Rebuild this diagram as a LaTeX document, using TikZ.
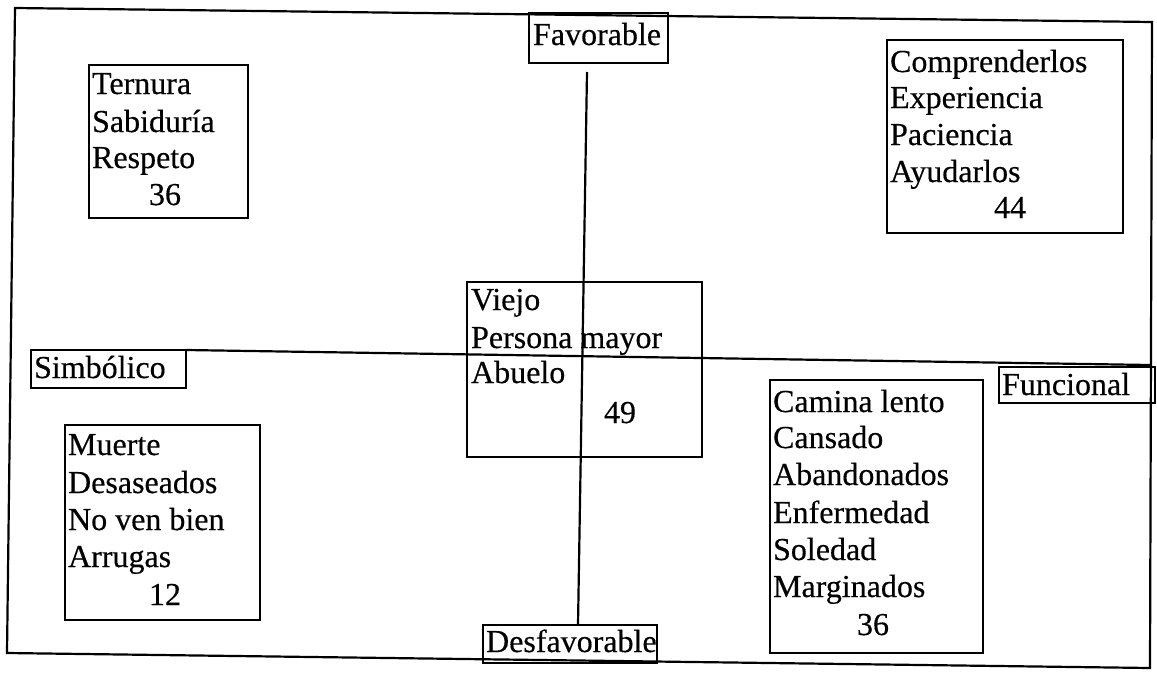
\documentclass[tikz,border=0pt]{standalone}
\usepackage{fontspec}
\setmainfont{Liberation Serif}
\newfontfamily\scanfont{Liberation Serif}[FakeBold=0.4]
\begin{document}
\begin{tikzpicture}[x=1pt,y=-1pt,line width=2.2pt,
  box/.style={draw,line width=2.2pt,inner sep=0pt,outer sep=0pt,anchor=north west},
  txt/.style={anchor=base west,inner sep=0pt,font=\scanfont\fontsize{32}{37}\selectfont},
  num/.style={anchor=base,inner sep=0pt,font=\scanfont\fontsize{32}{37}\selectfont}]
\useasboundingbox (0,0) rectangle (1157,675);
% outer frame
\coordinate (f1) at (15,8);
\coordinate (f2) at (1152,22);
\coordinate (f3) at (1150,668);
\coordinate (f4) at (7,653);
\draw (f1) -- (f2) -- (f3) -- (f4) -- cycle;
% axis labels
\node[box,minimum width=139pt,minimum height=50pt] (fav) at (529,13) {};
\node[txt] (favt) at (532,45) {Favorable};
\node[box,minimum width=174pt,minimum height=38pt] (desf) at (483,625) {};
\node[txt] (desft) at (485,652) {Desfavorable};
\node[box,minimum width=155pt,minimum height=38pt] (sim) at (31,350) {};
\node[txt] (simt) at (33,378) {Simbólico};
\node[box,minimum width=156pt,minimum height=36pt] (fun) at (999,367) {};
\node[txt] (funt) at (1001,395) {Funcional};
% axes
\coordinate (vtop) at (587,72);
\coordinate (vbot) at (578,625);
\coordinate (hright) at (1150,365);
\draw (vtop) -- (vbot);
\draw (sim.north east) -- (hright);
% centre box
\node[box,minimum width=235pt,minimum height=175pt] (cent) at (467,282) {};
\node[txt] (c1) at (470,310) {Viejo};
\node[txt] (c2) at (470,348) {Persona mayor};
\node[txt] (c3) at (470,383) {Abuelo};
\node[num] (c4) at (620,423) {49};
% top left
\node[box,minimum width=159pt,minimum height=153pt] (tern) at (89,65) {};
\node[txt] (t1) at (91,94) {Ternura};
\node[txt] (t2) at (91,132) {Sabiduría};
\node[txt] (t3) at (91,168) {Respeto};
\node[num] (t4) at (165,205) {36};
% top right
\node[box,minimum width=236pt,minimum height=193pt] (comp) at (887,40) {};
\node[txt] (p1) at (889,72) {Comprenderlos};
\node[txt] (p2) at (889,108) {Experiencia};
\node[txt] (p3) at (889,145) {Paciencia};
\node[txt] (p4) at (889,182) {Ayudarlos};
\node[num] (p5) at (1010,218) {44};
% bottom left
\node[box,minimum width=195pt,minimum height=195pt] (muer) at (65,425) {};
\node[txt] (m1) at (67,455) {Muerte};
\node[txt] (m2) at (67,493) {Desaseados};
\node[txt] (m3) at (67,530) {No ven bien};
\node[txt] (m4) at (67,567) {Arrugas};
\node[num] (m5) at (165,605) {12};
% bottom right
\node[box,minimum width=213pt,minimum height=273pt] (cami) at (770,380) {};
\node[txt] (k1) at (772,412) {Camina lento};
\node[txt] (k2) at (772,448) {Cansado};
\node[txt] (k3) at (772,485) {Abandonados};
\node[txt] (k4) at (772,523) {Enfermedad};
\node[txt] (k5) at (772,560) {Soledad};
\node[txt] (k6) at (772,597) {Marginados};
\node[num] (k7) at (873,635) {36};
\end{tikzpicture}
\end{document}
